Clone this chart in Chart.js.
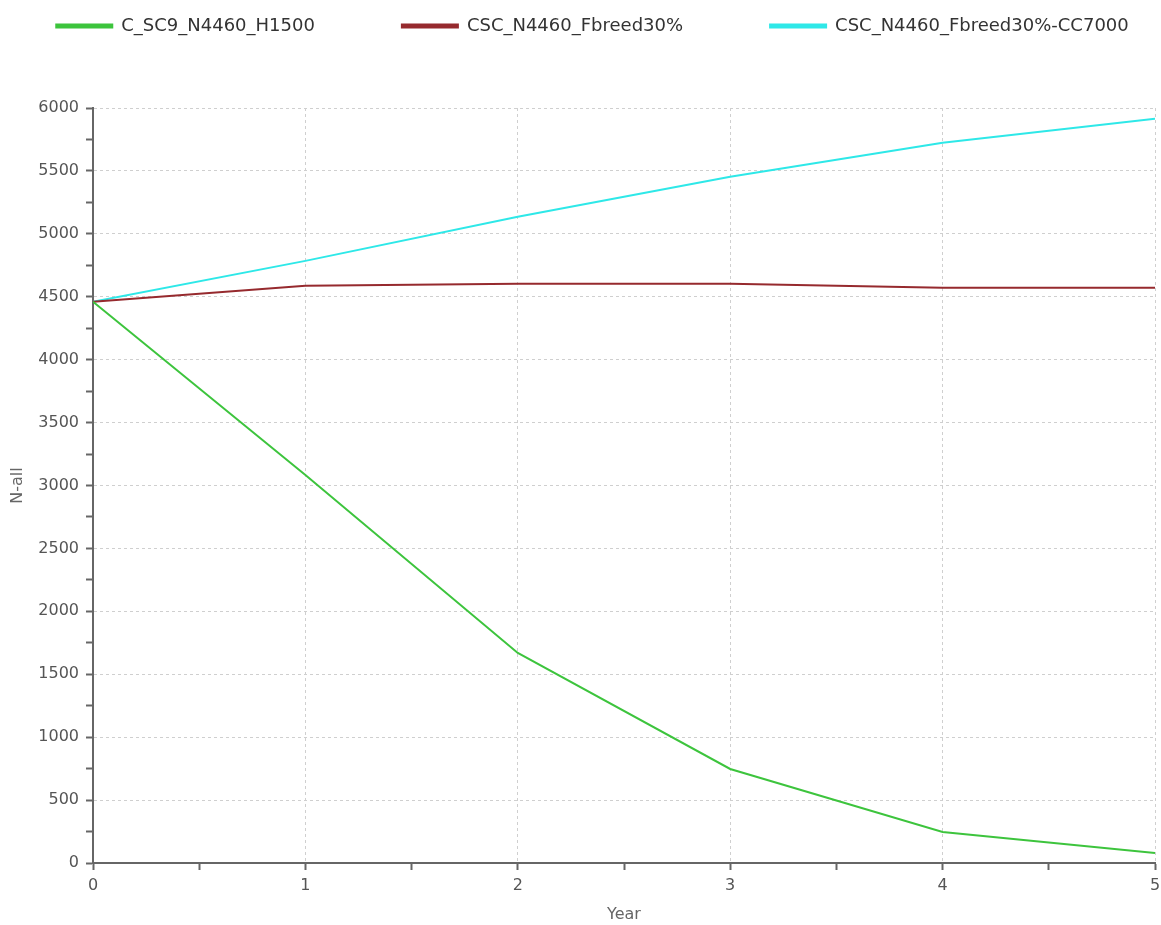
<!DOCTYPE html>
<html>
<head>
<meta charset="utf-8">
<script src="https://cdn.jsdelivr.net/npm/chart.js@4/dist/chart.umd.min.js"></script>
<style>
  html, body { margin: 0; padding: 0; background: #fff; }
  #wrap { width: 1161px; height: 925px; }
</style>
</head>
<body>
<div id="wrap"><canvas id="popChart" width="1161" height="925"></canvas></div>
<script>
// Data
const years = [0, 1, 2, 3, 4, 5];
const seriesNames = ['C_SC9_N4460_H1500', 'CSC_N4460_Fbreed30%', 'CSC_N4460_Fbreed30%-CC7000'];
const harvestValues = [4460, 3084, 1669, 747, 246, 80];
const breedValues = [4460, 4587, 4603, 4603, 4571, 4571];
const breedCCValues = [4460, 4785, 5135, 5453, 5723, 5914];
const seriesColors = ['#3dc43d', '#962a2e', '#2ee8e8'];

const FONT = "'DejaVu Sans', 'Open Sans', sans-serif";

function toPoints(values) {
    return years.map((yr, i) => ({ x: yr, y: values[i] }));
}

// Legend: keep all items on one wide row, fixed block height
const legendLayout = {
    id: 'legendLayout',
    beforeLayout(chart) {
        const legend = chart.legend;
        if (legend && !legend._fixed) {
            const origFit = legend.fit;
            legend.fit = function() {
                this.maxWidth = 1500;
                origFit.call(this);
                this.height = 108;
            };
            legend._fixed = true;
        }
    },
    afterLayout(chart) {
        const legend = chart.legend;
        legend.top = -70;
        legend.left = -115;
        legend.right = 1300;
    }
};

new Chart(document.getElementById('popChart').getContext('2d'), {
    type: 'line',
    data: {
        datasets: [harvestValues, breedValues, breedCCValues].map((vals, i) => ({
            label: seriesNames[i],
            data: toPoints(vals),
            borderColor: seriesColors[i],
            backgroundColor: seriesColors[i],
            borderWidth: 2,
            pointRadius: 0,
            tension: 0,
            fill: false
        }))
    },
    options: {
        responsive: false,
        animation: false,
        layout: { padding: { left: 0, right: 6, top: 0, bottom: 0 } },
        plugins: {
            legend: {
                position: 'top',
                labels: {
                    boxWidth: 56,
                    boxHeight: 3,
                    padding: 87,
                    color: '#333',
                    font: { family: FONT, size: 18 }
                }
            },
            tooltip: { enabled: false }
        },
        scales: {
            x: {
                type: 'linear',
                min: 0,
                max: 5,
                afterFit(scale) {
                    scale.paddingLeft = 0;
                    scale.paddingRight = 0;
                    scale.height = 62;
                },
                ticks: {
                    stepSize: 0.5,
                    autoSkip: false,
                    maxRotation: 0,
                    padding: 6,
                    color: '#555',
                    font: { family: FONT, size: 16 },
                    callback: v => (Number.isInteger(v) ? v : '')
                },
                grid: {
                    color: ctx => (Number.isInteger(ctx.tick && ctx.tick.value) ? '#cfcfcf' : 'rgba(0,0,0,0)'),
                    tickColor: '#666',
                    tickWidth: 2,
                    tickLength: 7,
                    tickBorderDash: []
                },
                border: { color: '#666', width: 2, dash: [3, 3] },
                title: {
                    display: true,
                    text: 'Year',
                    color: '#666',
                    padding: { top: 0, bottom: 1 },
                    font: { family: FONT, size: 16 }
                }
            },
            y: {
                min: 0,
                max: 6000,
                afterFit(scale) {
                    scale.paddingTop = 0;
                    scale.paddingBottom = 0;
                    scale.width = 93;
                },
                ticks: {
                    stepSize: 250,
                    autoSkip: false,
                    padding: 7,
                    color: '#555',
                    font: { family: FONT, size: 16 },
                    callback: v => (v % 500 === 0 ? v : '')
                },
                grid: {
                    color: ctx => (ctx.tick && ctx.tick.value % 500 === 0 ? '#cfcfcf' : 'rgba(0,0,0,0)'),
                    tickColor: '#666',
                    tickWidth: 2,
                    tickLength: 7,
                    tickBorderDash: []
                },
                border: { color: '#666', width: 2, dash: [3, 3] },
                title: {
                    display: true,
                    text: 'N-all',
                    color: '#666',
                    padding: { top: 8, bottom: 0 },
                    font: { family: FONT, size: 16 }
                }
            }
        }
    },
    plugins: [legendLayout]
});
</script>
</body>
</html>
